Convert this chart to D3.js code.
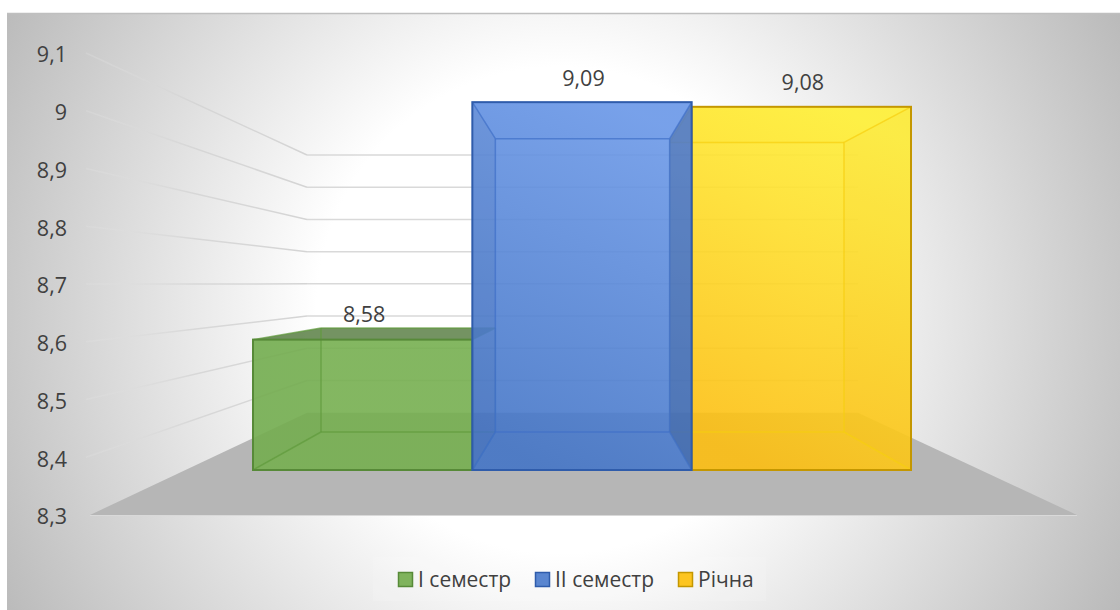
<!DOCTYPE html>
<html>
<head>
<meta charset="utf-8">
<style>
  body { margin: 0; background: #fff; }
  text { font-family: "Open Sans", sans-serif; fill: #404040; }
</style>
<script src="https://cdn.jsdelivr.net/npm/d3@7"></script>
</head>
<body>
<script>
let series = ["I семестр", "II семестр", "Річна"];
let values = [8.58, 9.09, 9.08];
let tickValues = [8.3, 8.4, 8.5, 8.6, 8.7, 8.8, 8.9, 9, 9.1];

let strokeColors = ["#578a38", "#2f5cab", "#c49700"];
let edgeColors = ["#5f9a3c", "#3f6fc8", "#f7cf10"];
let topColors = ["#76af50", "#6c99e8", "#fff038"];
let bottomColors = ["#76af50", "#4475c6", "#fcbe12"];
let swatchColors = ["#7fb35c", "#5a86d0", "#fdc520"];
let sideColors = ["#4c7a30", "#3a5a90", "#d9a400"];
let leftOpacity = [0.03, 0.12, 0];
let rightOpacity = [0, 0.42, 0.04];
let drawOrder = [0, 2, 1];

let width = 1120;
let height = 610;
let svg = d3
  .select("body")
  .append("svg")
  .attr("width", width)
  .attr("height", height)
  .style("display", "block");
let defs = svg.append("defs");

// perspective planes: wall front edge, back wall, bar front, bar back
let yFront = d3.scaleLinear().domain([8.3, 9.1]).range([515, 53]);
let yBack = d3.scaleLinear().domain([8.3, 9.1]).range([412.7, 155]);
let yBarFront = d3.scaleLinear().domain([8.3, 9.1]).range([470, 97.5]);
let yBarBack = d3.scaleLinear().domain([8.3, 9.1]).range([432, 135]);
let xBarFront = d3.scaleBand().domain(series).range([253, 911]);
let xBarBack = d3.scaleBand().domain(series).range([321, 844]);

let baseValue = tickValues[0];

// chart background
let bg = defs
  .append("radialGradient")
  .attr("id", "bg")
  .attr("gradientUnits", "userSpaceOnUse")
  .attr("cx", 560)
  .attr("cy", 310)
  .attr("r", 640);
bg.append("stop").attr("offset", 0.38).attr("stop-color", "#fff");
bg.append("stop").attr("offset", 1).attr("stop-color", "#b9b9b9");

svg
  .append("rect")
  .attr("x", 7)
  .attr("y", 13)
  .attr("width", width - 7)
  .attr("height", height - 13)
  .attr("fill", "url(#bg)");
svg
  .append("line")
  .attr("x1", 7)
  .attr("x2", width)
  .attr("y1", 13.5)
  .attr("y2", 13.5)
  .attr("stroke", "#bfbfbf")
  .attr("stroke-width", 1.5);

// faded side wall lines
let fade = defs
  .append("linearGradient")
  .attr("id", "fade")
  .attr("gradientUnits", "userSpaceOnUse")
  .attr("x1", 86)
  .attr("x2", 307)
  .attr("y1", 0)
  .attr("y2", 0);
fade.append("stop").attr("offset", 0).attr("stop-color", "#e4e4e4").attr("stop-opacity", 0.25);
fade.append("stop").attr("offset", 0.5).attr("stop-color", "#d0d0d0").attr("stop-opacity", 0.7);
fade.append("stop").attr("offset", 1).attr("stop-color", "#d4d4d4").attr("stop-opacity", 1);

// floor
let floorPoints = [
  [90, yFront(baseValue)],
  [1077, yFront(baseValue)],
  [858, yBack(baseValue)],
  [307, yBack(baseValue)]
];
svg
  .append("polygon")
  .attr("points", floorPoints.join(" "))
  .attr("fill", "#b6b6b6");
svg
  .append("line")
  .attr("x1", 90)
  .attr("x2", 1077)
  .attr("y1", yFront(baseValue) + 0.5)
  .attr("y2", yFront(baseValue) + 0.5)
  .attr("stroke", "#d9d9d9")
  .attr("stroke-width", 1);

// grid lines
let gridValues = tickValues.filter(function(d) {
  return d > baseValue;
});
let grid = svg.append("g");
grid
  .selectAll(".side")
  .data(gridValues)
  .enter()
  .append("path")
  .attr("d", function(d) {
    return "M86," + yFront(d) + "L307," + yBack(d);
  })
  .attr("fill", "none")
  .attr("stroke", "url(#fade)")
  .attr("stroke-width", 1.5);
grid
  .selectAll(".back")
  .data(gridValues)
  .enter()
  .append("line")
  .attr("x1", 307)
  .attr("x2", 858)
  .attr("y1", function(d) {
    return yBack(d);
  })
  .attr("y2", function(d) {
    return yBack(d);
  })
  .attr("stroke", "#d9d9d9")
  .attr("stroke-width", 1.5);

// bars as glass boxes
function createBar(i) {
  let name = series[i];
  let value = values[i];
  let x0 = xBarFront(name);
  let x1 = x0 + xBarFront.bandwidth();
  let bx0 = xBarBack(name);
  let bx1 = bx0 + xBarBack.bandwidth();
  let yf0 = yBarFront(baseValue);
  let yf1 = yBarFront(value);
  let yb0 = yBarBack(baseValue);
  let yb1 = yBarBack(value);

  let grad = defs
    .append("linearGradient")
    .attr("id", "front" + i)
    .attr("x1", 0.35)
    .attr("x2", 0.65)
    .attr("y1", 1)
    .attr("y2", 0);
  grad.append("stop").attr("offset", 0).attr("stop-color", bottomColors[i]);
  grad.append("stop").attr("offset", 1).attr("stop-color", topColors[i]);

  let g = svg.append("g");
  let faces = [
    { pts: [[x0, yf1], [x1, yf1], [bx1, yb1], [bx0, yb1]], fill: i === 0 ? "#3f6a25" : topColors[i], op: i === 0 ? 0.72 : 0.2 },
    { pts: [[x0, yf0], [x1, yf0], [x1, yf1], [x0, yf1]], fill: "url(#front" + i + ")", op: 0.9 },
    { pts: [[x0, yf0], [bx0, yb0], [bx0, yb1], [x0, yf1]], fill: sideColors[i], op: leftOpacity[i] },
    { pts: [[x1, yf0], [bx1, yb0], [bx1, yb1], [x1, yf1]], fill: sideColors[i], op: rightOpacity[i] }
  ];
  g.selectAll("polygon")
    .data(faces)
    .enter()
    .append("polygon")
    .attr("points", function(d) {
      return d.pts.join(" ");
    })
    .attr("fill", function(d) {
      return d.fill;
    })
    .attr("fill-opacity", function(d) {
      return d.op;
    });

  // inner edges
  let edges = [
    [[bx0, yb0], [bx1, yb0]],
    [[bx0, yb1], [bx1, yb1]],
    [[bx0, yb0], [bx0, yb1]],
    [[bx1, yb0], [bx1, yb1]],
    [[x0, yf0], [bx0, yb0]],
    [[x1, yf0], [bx1, yb0]],
    [[x0, yf1], [bx0, yb1]],
    [[x1, yf1], [bx1, yb1]]
  ];
  g.selectAll("line")
    .data(edges)
    .enter()
    .append("line")
    .attr("x1", function(d) {
      return d[0][0];
    })
    .attr("y1", function(d) {
      return d[0][1];
    })
    .attr("x2", function(d) {
      return d[1][0];
    })
    .attr("y2", function(d) {
      return d[1][1];
    })
    .attr("stroke", edgeColors[i])
    .attr("stroke-opacity", 0.7)
    .attr("stroke-width", 1.5);

  g.append("rect")
    .attr("x", x0)
    .attr("y", yf1)
    .attr("width", x1 - x0)
    .attr("height", yf0 - yf1)
    .attr("fill", "none")
    .attr("stroke", strokeColors[i])
    .attr("stroke-width", 2);
}

for (let i of drawOrder) {
  createBar(i);
}

// value axis, drawn on the near edge of the side wall
let axis = d3
  .axisLeft(yFront)
  .tickValues(tickValues)
  .tickSize(0)
  .tickPadding(0)
  .tickFormat(function(d) {
    return String(d).replace(".", ",");
  });
let axisG = svg
  .append("g")
  .attr("transform", "translate(67,1)")
  .call(axis);
axisG.select(".domain").remove();
axisG
  .selectAll("text")
  .style("font-size", "21.5px")
  .attr("dy", "0.36em");
axisG.attr("font-family", null).attr("font-size", null);

// data labels
let labelY = [314, 78, 82];
svg
  .selectAll(".value-label")
  .data(values)
  .enter()
  .append("text")
  .attr("class", "value-label")
  .attr("x", function(d, i) {
    return xBarFront(series[i]) + xBarFront.bandwidth() / 2 + 1.5;
  })
  .attr("y", function(d, i) {
    return labelY[i];
  })
  .attr("dy", "0.36em")
  .attr("text-anchor", "middle")
  .style("font-size", "21.5px")
  .text(function(d) {
    return String(d).replace(".", ",");
  });

// legend
let legendX = [398, 535, 678];
svg
  .append("rect")
  .attr("x", 373)
  .attr("y", 557)
  .attr("width", 393)
  .attr("height", 44)
  .attr("fill", "#fff")
  .attr("fill-opacity", 0.12);
let legend = svg
  .selectAll(".legend")
  .data(series)
  .enter()
  .append("g")
  .attr("class", "legend")
  .attr("transform", function(d, i) {
    return "translate(" + legendX[i] + ",572)";
  });
legend
  .append("rect")
  .attr("x", 0.5)
  .attr("y", 0.5)
  .attr("width", 14)
  .attr("height", 14)
  .attr("fill", function(d, i) {
    return swatchColors[i];
  })
  .attr("stroke", function(d, i) {
    return strokeColors[i];
  })
  .attr("stroke-width", 1.5);
legend
  .append("text")
  .attr("x", 20)
  .attr("y", 15)
  .style("font-size", "21px")
  .text(function(d) {
    return d;
  });
</script>
</body>
</html>
